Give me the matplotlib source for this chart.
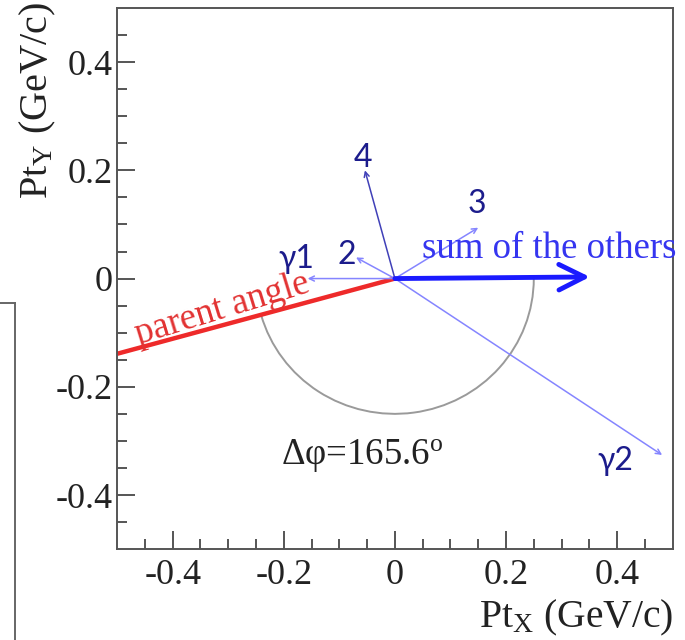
import numpy as np
import matplotlib
matplotlib.use("Agg")
import matplotlib.pyplot as plt
from matplotlib.patches import Arc
from matplotlib.lines import Line2D

plt.rcParams['font.family'] = ['Liberation Serif', 'DejaVu Serif']
plt.rcParams['mathtext.fontset'] = 'custom'
plt.rcParams['mathtext.rm'] = 'Liberation Serif'
plt.rcParams['mathtext.it'] = 'Liberation Serif:italic'
plt.rcParams['axes.unicode_minus'] = False

# decay products (Pt vectors, GeV/c)
names = ['γ1', '2', '3', '4', 'γ2']
tip_x = [-0.157, -0.070, 0.150, -0.054, 0.481]
tip_y = [0.000, 0.039, 0.094, 0.200, -0.326]

# sum of the others
sum_x = 0.351
sum_y = 0.003

# parent direction (drawn to the frame edge)
parent_x = [0.0, -0.5]
parent_y = [0.0, -0.139]
delta_phi = 165.6
arc_radius = 0.25

ticks = [-0.4, -0.2, 0, 0.2, 0.4]
tick_labels = ['-0.4', '-0.2', '0', '0.2', '0.4']

fig = plt.figure(figsize=(6.85, 6.4), dpi=100)
ax = fig.add_axes([0.171, 0.142, 0.811, 0.8455])
ax.set_xlim(-0.5, 0.5)
ax.set_ylim(-0.5, 0.5)

for s in ['left', 'bottom', 'top', 'right']:
    ax.spines[s].set_color('#555555')
    ax.spines[s].set_linewidth(1.4)

ax.set_xticks(ticks)
ax.set_xticklabels(tick_labels)
ax.set_yticks(ticks)
ax.set_yticklabels(tick_labels)
ax.set_xticks(np.arange(-0.45, 0.5, 0.05), minor=True)
ax.set_yticks(np.arange(-0.45, 0.5, 0.05), minor=True)
ax.tick_params(which='both', direction='in', top=False, right=False,
               color='#555555', width=1.4, labelsize=26, labelcolor='#222222')
ax.tick_params(which='major', length=13)
ax.tick_params(which='minor', length=7)
ax.tick_params(axis='x', which='major', pad=7)
ax.tick_params(axis='y', which='major', pad=3)

# angle arc between parent and sum
parent_ang = np.degrees(np.arctan2(parent_y[1], parent_x[1])) % 360
arc = Arc((0, 0), 2 * arc_radius, 2 * arc_radius, theta1=parent_ang, theta2=360,
          color='#9a9a9a', lw=1.4)
ax.add_patch(arc)

# parent line
ax.plot(parent_x, parent_y, color='#ee2a2a', lw=3.2, solid_capstyle='butt')
ax.text(-0.31, -0.057, 'parent angle', color='#e23232', fontsize=26.5,
        rotation=17, rotation_mode='anchor', ha='center', va='center')

# thin arrows for each particle
label_off = {'γ1': (-0.02, 0.037), '2': (-0.017, 0.005), '3': (-0.002, 0.043),
             '4': (-0.004, 0.022), 'γ2': (-0.085, -0.011)}
for n, x, y in zip(names, tip_x, tip_y):
    c = '#4040b8' if n == '4' else '#8585ff'
    ax.annotate('', xy=(x, y), xytext=(0, 0),
                arrowprops=dict(arrowstyle='->', color=c, lw=1.1,
                                shrinkA=0, shrinkB=0, mutation_scale=9))
    dx, dy = label_off[n]
    ax.text(x + dx, y + dy, n, color='#1c1c8c', fontsize=23,
            family=['Lato', 'Noto Sans', 'DejaVu Sans'], ha='center', va='center')

# sum of the others
ax.annotate('', xy=(sum_x, sum_y), xytext=(0, 0),
            arrowprops=dict(arrowstyle='->', color='#1a1aff', lw=3.5,
                            shrinkA=0, shrinkB=0, mutation_scale=46,
                            joinstyle='round', capstyle='round'))
ax.text(0.049, 0.056, 'sum of the others', color='#3535f0', fontsize=26.5,
        ha='left', va='center', clip_on=False)

ax.text(-0.205, -0.328, 'Δφ=%.1f$^{\\mathrm{o}}$' % delta_phi, color='#222222',
        fontsize=26.5, ha='left', va='center')

# axis titles (ROOT style, aligned to axis end)
fig.text(0.055, 0.998, 'Pt$_{\\mathrm{Y}}$ (GeV/c)', rotation=90, fontsize=29,
         ha='center', va='top', color='#222222')
fig.text(673 / 685, 1 - 627 / 640, 'Pt$_{\\mathrm{X}}$ (GeV/c)', fontsize=28.5,
         ha='right', va='baseline', color='#222222')

# edge of neighbouring panel
fig.add_artist(Line2D([15 / 685, 15 / 685], [0, 1 - 303 / 640],
                      transform=fig.transFigure, color='#666666', lw=1.4))
fig.add_artist(Line2D([0, 15 / 685], [1 - 303 / 640, 1 - 303 / 640],
                      transform=fig.transFigure, color='#666666', lw=1.4))

fig.savefig('out.png', dpi=100)
